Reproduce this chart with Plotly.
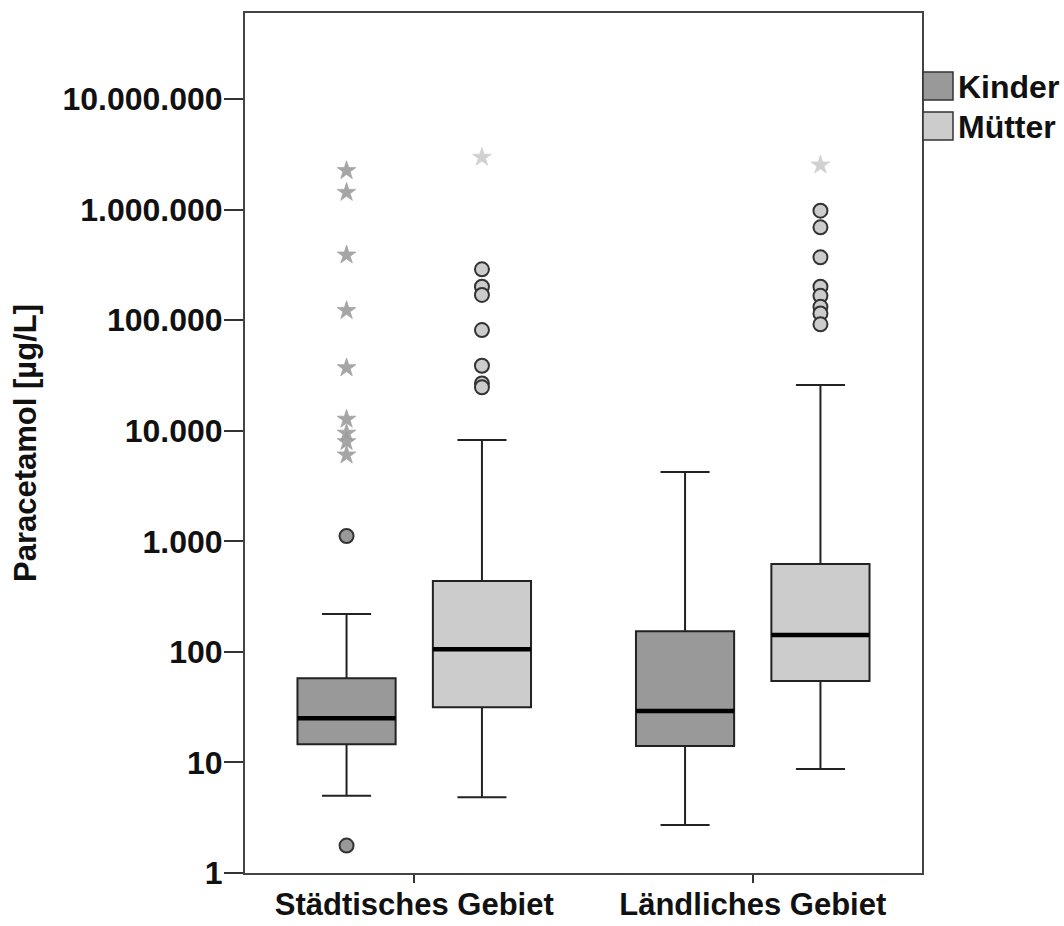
import plotly.graph_objects as go

# Categories and groups
areas = ["Städtisches Gebiet", "Ländliches Gebiet"]
groups = ["Kinder", "Mütter"]

# Box statistics per group, one value per area (µg/L)
kinder_q1 = [14.6, 14.1]
kinder_median = [25.1, 29.2]
kinder_q3 = [57.7, 154]
kinder_low = [5.0, 2.72]
kinder_high = [220, 4230]

muetter_q1 = [31.5, 54.5]
muetter_median = [105.5, 142]
muetter_q3 = [437, 623]
muetter_low = [4.84, 8.72]
muetter_high = [8240, 25900]

# Outliers (circles) and extreme values (stars) per group and area
kinder_outliers = [[1117, 1.77], []]
kinder_extremes = [[2.25e6, 1.43e6, 3.88e5, 1.22e5, 3.71e4, 1.27e4, 9.5e3, 7.96e3, 6.03e3], []]
muetter_outliers = [[2.88e5, 2.01e5, 1.69e5, 8.14e4, 3.87e4, 2.68e4, 2.47e4],
                    [9.77e5, 6.91e5, 3.70e5, 2.01e5, 1.66e5, 1.32e5, 1.15e5, 9.17e4]]
muetter_extremes = [[2.97e6], [2.53e6]]

# Y-axis tick labels
y_tickvals = [1, 10, 100, 1000, 10000, 100000, 1000000, 10000000]
y_ticktext = ["1", "10", "100", "1.000", "10.000", "100.000", "1.000.000", "10.000.000"]

FONT = "Liberation Sans, Arial, sans-serif"
TXT = dict(family=FONT, size=32, color="#111111", weight="bold")
XTXT = dict(family=FONT, size=31, color="#111111", weight="bold")
TITLE_TXT = dict(family=FONT, size=31, color="#111111", weight="bold")
colors = {"Kinder": "#999999", "Mütter": "#cccccc"}
star_colors = {"Kinder": "#9c9c9c", "Mütter": "#cdcdcd"}
offsets = {"Kinder": -0.2, "Mütter": 0.2}
box_w = 0.29

series = {
    "Kinder": (kinder_q1, kinder_median, kinder_q3, kinder_low, kinder_high,
               kinder_outliers, kinder_extremes),
    "Mütter": (muetter_q1, muetter_median, muetter_q3, muetter_low, muetter_high,
               muetter_outliers, muetter_extremes),
}

fig = go.Figure()

for g in groups:
    q1, med, q3, lo, hi, outl, extr = series[g]
    pos = [i + offsets[g] for i in range(len(areas))]
    fig.add_trace(go.Box(
        x=pos, q1=q1, median=med, q3=q3, lowerfence=lo, upperfence=hi,
        width=box_w, whiskerwidth=0.5,
        fillcolor=colors[g], line=dict(color="#222222", width=2),
        boxpoints=False, showlegend=False, name=g,
    ))
    # thick median bars
    mx, my = [], []
    for p, m in zip(pos, med):
        mx += [p - box_w / 2, p + box_w / 2, None]
        my += [m, m, None]
    fig.add_trace(go.Scatter(x=mx, y=my, mode="lines",
                             line=dict(color="#000000", width=4.5),
                             showlegend=False, hoverinfo="skip"))
    # outliers
    ox, oy = [], []
    for p, vals in zip(pos, outl):
        ox += [p] * len(vals)
        oy += vals
    fig.add_trace(go.Scatter(x=ox, y=oy, mode="markers",
                             marker=dict(symbol="circle", size=14, color=colors[g],
                                         line=dict(color="#333333", width=2)),
                             showlegend=False))
    # extreme values
    ex, ey = [], []
    for p, vals in zip(pos, extr):
        ex += [p] * len(vals)
        ey += vals
    fig.add_trace(go.Scatter(x=ex, y=ey, mode="markers",
                             marker=dict(symbol="star", size=14, color=star_colors[g],
                                         opacity=0.9,
                                         line=dict(color=star_colors[g], width=0.8)),
                             showlegend=False))

# Legend drawn as swatches and labels on the right
legend_rows = [(g, 0.9314 - k * 0.0465) for k, g in enumerate(groups)]
for g, ytop in legend_rows:
    fig.add_shape(type="rect", xref="paper", yref="paper",
                  x0=1.0015, x1=1.0458, y0=ytop - 0.0326, y1=ytop,
                  fillcolor=colors[g], line=dict(color="#333333", width=1.5))
    fig.add_annotation(xref="paper", yref="paper", x=1.0505, y=ytop - 0.0175,
                       text=g, showarrow=False, xanchor="left", yanchor="middle",
                       font=TXT)

# Y-axis title
fig.add_annotation(xref="paper", yref="paper", x=-0.325, y=0.5,
                   text="Paracetamol [µg/L]", textangle=-90, showarrow=False,
                   xanchor="center", yanchor="middle", font=TITLE_TXT)

fig.update_layout(
    width=1064, height=926,
    margin=dict(l=245, r=142, t=13, b=53),
    paper_bgcolor="white", plot_bgcolor="white",
    font=TXT,
    showlegend=False,
)
fig.update_xaxes(
    range=[-0.5, 1.5], tickvals=list(range(len(areas))), ticktext=areas,
    ticks="outside", ticklen=8, tickwidth=2, tickcolor="#333333",
    ticklabelstandoff=-5,
    showline=True, mirror=True, linecolor="#444444", linewidth=2,
    showgrid=False, zeroline=False, automargin=False,
    tickfont=XTXT,
)
fig.update_yaxes(
    type="log", range=[0, 7.778], tickvals=y_tickvals, ticktext=y_ticktext,
    ticks="outside", ticklen=19, tickwidth=2, tickcolor="#333333",
    ticklabelstandoff=-5,
    showline=True, mirror=True, linecolor="#444444", linewidth=2,
    showgrid=False, zeroline=False, automargin=False,
    tickfont=TXT,
)

fig.write_html("out.html")
